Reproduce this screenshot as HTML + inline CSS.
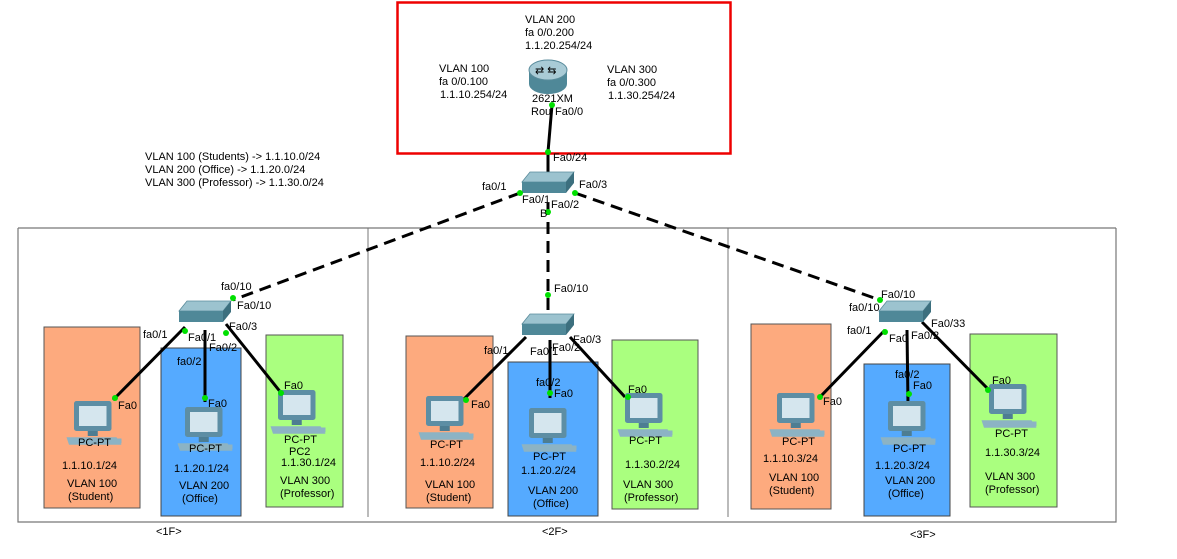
<!DOCTYPE html>
<html><head><meta charset="utf-8"><style>
html,body{margin:0;padding:0;background:#fff;}
svg{display:block;font-family:"Liberation Sans",sans-serif;}
text{font-size:11px;fill:#000;}
</style></head><body>
<svg width="1177" height="559" viewBox="0 0 1177 559" xmlns="http://www.w3.org/2000/svg">
<defs>
<g id="pc" transform="scale(1.25)">
 <rect x="-16" y="-20" width="30" height="24" fill="#5d8ea4" rx="2"/>
 <rect x="-12" y="-16" width="22" height="16" fill="#d5e6ee"/>
 <rect x="-5" y="4" width="8" height="4" fill="#4d7d92"/>
 <polygon points="-22,9 18,9 22,15 -20,15" fill="#8cb3c4"/>
 <rect x="16" y="10" width="6" height="4" fill="#8cb3c4"/>
</g>
<g id="sw">
 <polygon points="-18,-11 26,-11 18,-1 -26,-1" fill="#9cc3cf" stroke="#5a8c9c" stroke-width="0.8"/>
 <rect x="-26" y="-1" width="44" height="11" fill="#4f8898"/>
 <polygon points="18,-1 26,-11 26,0 18,10" fill="#3c6f7e"/>
</g>
</defs>

<rect x="397.5" y="2.5" width="333" height="151" fill="none" stroke="#e00" stroke-width="2.5"/>

<polyline points="18,228 18,522 1116,522 1116,228" fill="none" stroke="#777" stroke-width="1.2"/>
<line x1="18" y1="228" x2="1116" y2="228" stroke="#777" stroke-width="1.2"/>
<line x1="368" y1="228" x2="368" y2="517" stroke="#777" stroke-width="1"/>
<line x1="728" y1="228" x2="728" y2="517" stroke="#777" stroke-width="1"/>

<rect x="44" y="327" width="96" height="181" fill="#fdaa7e" stroke="#555"/>
<rect x="161" y="348" width="80" height="168" fill="#55aaff" stroke="#444"/>
<rect x="266" y="335" width="77" height="172" fill="#aaff7f" stroke="#555"/>
<rect x="406" y="336" width="87" height="172" fill="#fdaa7e" stroke="#555"/>
<rect x="508" y="362" width="90" height="154" fill="#55aaff" stroke="#444"/>
<rect x="612" y="340" width="86" height="169" fill="#aaff7f" stroke="#555"/>
<rect x="751" y="324" width="80" height="185" fill="#fdaa7e" stroke="#555"/>
<rect x="864" y="364" width="86" height="152" fill="#55aaff" stroke="#444"/>
<rect x="970" y="334" width="87" height="173" fill="#aaff7f" stroke="#555"/>

<g stroke="#000" stroke-width="3" fill="none">
 <line x1="552" y1="105" x2="548" y2="152"/>
 <line x1="548" y1="152" x2="548" y2="175"/>
</g>
<g stroke="#000" stroke-width="3" stroke-dasharray="12,7" fill="none">
 <line x1="520" y1="193" x2="233" y2="300"/>
 <line x1="548" y1="203" x2="548" y2="313"/>
 <line x1="575" y1="193" x2="880" y2="300"/>
</g>
<g stroke="#000" stroke-width="3" fill="none">
 <line x1="185" y1="327" x2="113" y2="400"/>
 <line x1="205" y1="330" x2="205" y2="402"/>
 <line x1="226" y1="324" x2="282" y2="394"/>
 <line x1="526" y1="337" x2="463" y2="400"/>
 <line x1="550" y1="340" x2="550" y2="398"/>
 <line x1="570" y1="337" x2="625" y2="397"/>
 <line x1="885" y1="330" x2="819" y2="398"/>
 <line x1="907" y1="330" x2="908" y2="404"/>
 <line x1="922" y1="322" x2="989" y2="390"/>
</g>

<ellipse cx="548" cy="84" rx="19" ry="10" fill="#4f8898"/>
<rect x="529" y="70" width="38" height="14" fill="#4f8898"/>
<ellipse cx="548" cy="70" rx="19" ry="10" fill="#a9cbd6" stroke="#5a8c9c"/>
<text x="535" y="74" font-size="8" fill="#fff">⇄ ⇆</text>

<use href="#sw" x="548" y="183"/>
<use href="#sw" x="205" y="312"/>
<use href="#sw" x="548" y="325"/>
<use href="#sw" x="905" y="312"/>

<use href="#pc" x="94" y="426"/>
<use href="#pc" x="205" y="432"/>
<use href="#pc" x="298" y="415"/>
<use href="#pc" x="446" y="421"/>
<use href="#pc" x="549" y="433"/>
<use href="#pc" x="645" y="418"/>
<use href="#pc" x="797" y="418"/>
<use href="#pc" x="908" y="426"/>
<use href="#pc" x="1009" y="409"/>

<g fill="#00e000">
 <circle cx="552" cy="105" r="3"/><circle cx="548" cy="152" r="3"/>
 <circle cx="520" cy="193" r="3"/><circle cx="575" cy="193" r="3"/><circle cx="548" cy="212" r="3"/>
 <circle cx="233" cy="298" r="3"/><circle cx="185" cy="331" r="3"/><circle cx="226" cy="333" r="3"/>
 <circle cx="115" cy="398" r="3"/><circle cx="205" cy="398" r="3"/><circle cx="281" cy="393" r="3"/>
 <circle cx="548" cy="295" r="3"/><circle cx="466" cy="400" r="3"/><circle cx="550" cy="393" r="3"/><circle cx="628" cy="397" r="3"/>
 <circle cx="880" cy="300" r="3"/><circle cx="885" cy="332" r="3"/>
 <circle cx="820" cy="397" r="3"/><circle cx="909" cy="394" r="3"/><circle cx="988" cy="390" r="3"/>
</g>

<text x="525" y="23">VLAN 200</text><text x="525" y="36">fa 0/0.200</text><text x="525" y="49">1.1.20.254/24</text>
<text x="439" y="72">VLAN 100</text><text x="439" y="85">fa 0/0.100</text><text x="440" y="98">1.1.10.254/24</text>
<text x="607" y="73">VLAN 300</text><text x="607" y="86">fa 0/0.300</text><text x="608" y="99">1.1.30.254/24</text>
<text x="532" y="102">2621XM</text><text x="531" y="115">Rou</text><text x="555" y="115">Fa0/0</text>
<text x="553" y="161">Fa0/24</text>
<text x="145" y="160">VLAN 100 (Students)  -&gt; 1.1.10.0/24</text>
<text x="145" y="173">VLAN 200 (Office)      -&gt; 1.1.20.0/24</text>
<text x="145" y="186">VLAN 300 (Professor) -&gt; 1.1.30.0/24</text>
<text x="482" y="190">fa0/1</text><text x="579" y="188">Fa0/3</text>
<text x="522" y="203">Fa0/1</text><text x="551" y="208">Fa0/2</text><text x="540" y="217">B</text>

<text x="221" y="290">fa0/10</text><text x="237" y="309">Fa0/10</text>
<text x="143" y="338">fa0/1</text><text x="188" y="341">Fa0/1</text><text x="229" y="330">Fa0/3</text><text x="209" y="351">Fa0/2</text>
<text x="177" y="365">fa0/2</text>
<text x="118" y="409">Fa0</text><text x="208" y="407">Fa0</text><text x="284" y="389">Fa0</text>
<text x="78" y="446">PC-PT</text><text x="189" y="452">PC-PT</text><text x="284" y="443">PC-PT</text><text x="289" y="455">PC2</text>
<text x="62" y="469">1.1.10.1/24</text><text x="174" y="472">1.1.20.1/24</text><text x="281" y="466">1.1.30.1/24</text>
<text x="67" y="487">VLAN 100</text><text x="68" y="500">(Student)</text>
<text x="179" y="489">VLAN 200</text><text x="182" y="502">(Office)</text>
<text x="280" y="484">VLAN 300</text><text x="280" y="497">(Professor)</text>
<text x="156" y="535">&lt;1F&gt;</text>

<text x="554" y="292">Fa0/10</text>
<text x="484" y="354">fa0/1</text><text x="530" y="355">Fa0/1</text><text x="552" y="351">Fa0/2</text><text x="573" y="343">Fa0/3</text>
<text x="536" y="386">fa0/2</text><text x="554" y="397">Fa0</text>
<text x="471" y="408">Fa0</text><text x="628" y="393">Fa0</text>
<text x="430" y="448">PC-PT</text><text x="533" y="460">PC-PT</text><text x="629" y="444">PC-PT</text>
<text x="420" y="466">1.1.10.2/24</text><text x="521" y="474">1.1.20.2/24</text><text x="625" y="468">1.1.30.2/24</text>
<text x="425" y="488">VLAN 100</text><text x="426" y="501">(Student)</text>
<text x="528" y="494">VLAN 200</text><text x="533" y="507">(Office)</text>
<text x="623" y="488">VLAN 300</text><text x="624" y="501">(Professor)</text>
<text x="542" y="535">&lt;2F&gt;</text>

<text x="881" y="298">Fa0/10</text><text x="849" y="311">fa0/10</text>
<text x="847" y="334">fa0/1</text><text x="889" y="342">Fa0</text><text x="911" y="339">Fa0/2</text><text x="931" y="327">Fa0/33</text>
<text x="895" y="378">fa0/2</text><text x="913" y="389">Fa0</text>
<text x="823" y="405">Fa0</text><text x="992" y="384">Fa0</text>
<text x="782" y="445">PC-PT</text><text x="893" y="452">PC-PT</text><text x="995" y="437">PC-PT</text>
<text x="763" y="462">1.1.10.3/24</text><text x="875" y="469">1.1.20.3/24</text><text x="985" y="456">1.1.30.3/24</text>
<text x="769" y="481">VLAN 100</text><text x="769" y="494">(Student)</text>
<text x="885" y="484">VLAN 200</text><text x="888" y="497">(Office)</text>
<text x="985" y="480">VLAN 300</text><text x="985" y="493">(Professor)</text>
<text x="910" y="538">&lt;3F&gt;</text>
</svg>
</body></html>
